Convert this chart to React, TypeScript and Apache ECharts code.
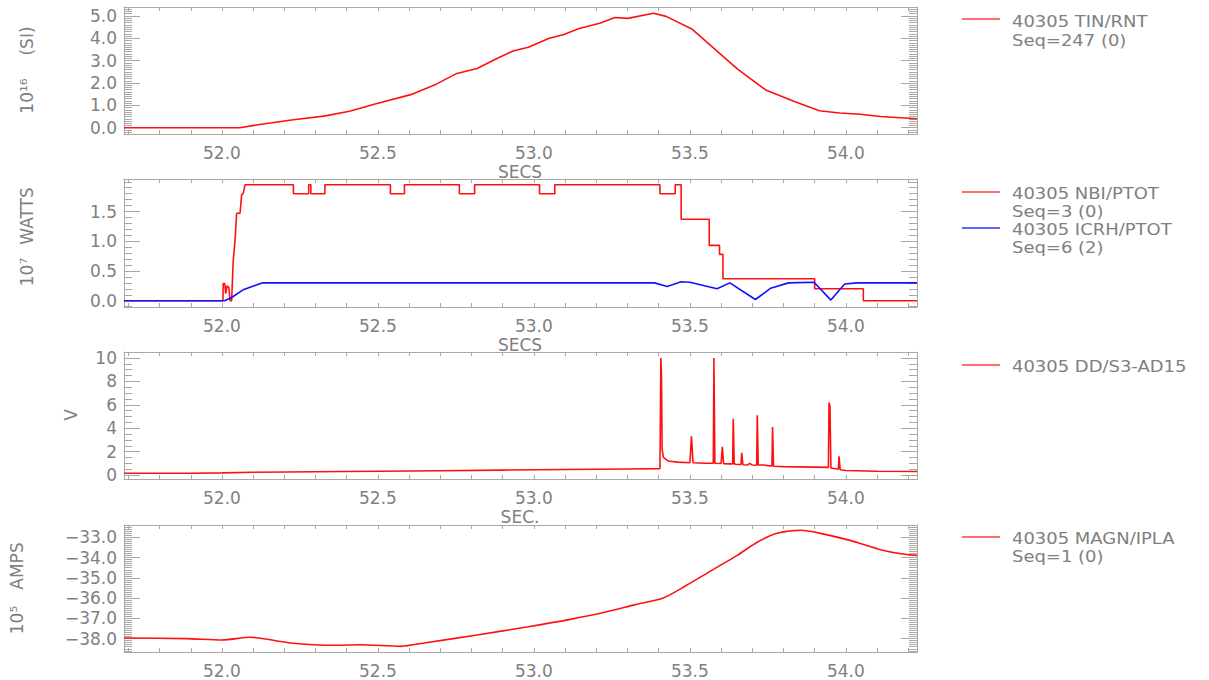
import React, { useEffect, useRef } from "react";
import * as echarts from "echarts";

// ---------- shared x axis ----------
const X_MIN = 51.686;
const X_MAX = 54.228;
const X_LABELS = [52.0, 52.5, 53.0, 53.5, 54.0];

// ---------- panel 1 : TIN/RNT ----------
const tinTime = [51.686, 52.057, 52.115, 52.229, 52.327, 52.409, 52.491, 52.605, 52.687, 52.753, 52.818, 52.883, 52.933, 52.982, 53.047, 53.096, 53.145, 53.211, 53.26, 53.301, 53.383, 53.424, 53.506, 53.587, 53.653, 53.743, 53.833, 53.915, 53.98, 54.046, 54.111, 54.228];
const tinValue = [0.0, 0.0, 0.13, 0.36, 0.52, 0.74, 1.06, 1.48, 1.95, 2.43, 2.65, 3.11, 3.43, 3.6, 3.99, 4.17, 4.44, 4.67, 4.93, 4.89, 5.12, 4.98, 4.42, 3.43, 2.62, 1.69, 1.18, 0.76, 0.66, 0.6, 0.5, 0.4];
const P1_TICKS = [0, 1, 2, 3, 4, 5];

// ---------- panel 2 : NBI/PTOT and ICRH/PTOT ----------
const nbiTime = [51.686, 52.003, 52.004, 52.009, 52.012, 52.016, 52.022, 52.026, 52.031, 52.036, 52.042, 52.047, 52.058, 52.063, 52.068, 52.074, 52.229, 52.229, 52.278, 52.278, 52.285, 52.285, 52.33, 52.33, 52.54, 52.54, 52.585, 52.585, 52.761, 52.761, 52.81, 52.81, 53.018, 53.018, 53.067, 53.067, 53.404, 53.404, 53.453, 53.453, 53.472, 53.472, 53.562, 53.562, 53.595, 53.595, 53.606, 53.606, 53.9, 53.9, 54.056, 54.056, 54.228];
const nbiValue = [0, 0, 0.29, 0.29, 0.12, 0.25, 0.22, 0, 0, 0.66, 1.02, 1.47, 1.47, 1.78, 1.8, 1.95, 1.95, 1.8, 1.8, 1.95, 1.95, 1.8, 1.8, 1.95, 1.95, 1.8, 1.8, 1.95, 1.95, 1.8, 1.8, 1.95, 1.95, 1.8, 1.8, 1.95, 1.95, 1.8, 1.8, 1.95, 1.95, 1.37, 1.37, 0.93, 0.93, 0.78, 0.78, 0.37, 0.37, 0.2, 0.2, 0, 0];
const icrhTime = [51.686, 52.008, 52.03, 52.07, 52.131, 53.387, 53.427, 53.472, 53.5, 53.587, 53.628, 53.71, 53.759, 53.816, 53.898, 53.952, 53.996, 54.037, 54.228];
const icrhValue = [0, 0, 0.05, 0.19, 0.3, 0.3, 0.24, 0.32, 0.31, 0.2, 0.3, 0.02, 0.21, 0.3, 0.31, 0.01, 0.28, 0.3, 0.3];
const P2_TICKS = [0, 0.5, 1.0, 1.5];

// ---------- panel 3 : DD/S3-AD15 ----------
const ddTime = [51.686, 51.9, 52.0, 52.1, 52.3, 52.5, 52.7, 52.9, 53.1, 53.3, 53.404, 53.405, 53.407, 53.409, 53.411, 53.415, 53.43, 53.46, 53.5, 53.505, 53.51, 53.55, 53.575, 53.577, 53.58, 53.6, 53.604, 53.608, 53.625, 53.637, 53.639, 53.642, 53.647, 53.664, 53.666, 53.67, 53.685, 53.692, 53.7, 53.714, 53.716, 53.719, 53.735, 53.75, 53.763, 53.765, 53.768, 53.8, 53.85, 53.944, 53.946, 53.949, 53.952, 53.976, 53.978, 53.982, 54.0, 54.1, 54.228];
const ddValue = [0.15, 0.15, 0.18, 0.24, 0.28, 0.32, 0.37, 0.42, 0.47, 0.52, 0.55, 3.5, 10.0, 8.4, 2.2, 1.5, 1.2, 1.1, 1.05, 3.3, 1.05, 1.0, 1.0, 10.0, 1.0, 0.98, 2.4, 0.97, 0.95, 0.95, 4.8, 0.95, 0.92, 0.9, 1.9, 0.88, 0.86, 1.0, 0.85, 0.84, 5.1, 0.85, 0.85, 0.8, 0.78, 4.1, 0.75, 0.72, 0.7, 0.65, 6.2, 5.9, 0.6, 0.5, 1.6, 0.45, 0.38, 0.32, 0.3];
const P3_TICKS = [0, 2, 4, 6, 8, 10];

// ---------- panel 4 : MAGN/IPLA ----------
const ipTime = [51.686, 51.886, 52.0, 52.09, 52.213, 52.36, 52.442, 52.573, 52.654, 52.818, 52.982, 53.112, 53.227, 53.325, 53.415, 53.488, 53.57, 53.652, 53.717, 53.783, 53.856, 53.915, 54.013, 54.111, 54.176, 54.228];
const ipValue = [-37.97, -38.0, -38.07, -37.93, -38.2, -38.33, -38.3, -38.38, -38.2, -37.82, -37.41, -37.06, -36.7, -36.32, -35.99, -35.38, -34.63, -33.89, -33.23, -32.79, -32.65, -32.79, -33.15, -33.61, -33.81, -33.89];
const P4_TICKS = [-38, -37, -36, -35, -34, -33];

const TEXT = "#808080";
const AXIS = "#a8a8a8";
const FONT = "'DejaVu Sans', sans-serif";

function zip(t: number[], v: number[]) {
  return t.map((x, i) => [x, v[i]]);
}
function steps(min: number, max: number, step: number) {
  const out: number[] = [];
  const start = Math.ceil(min / step - 1e-9);
  for (let k = start; k * step <= max + 1e-9; k++) out.push(Math.round(k * step * 1000) / 1000);
  return out;
}

const X_TICKS = steps(X_MIN, X_MAX, 0.1);

interface Panel {
  top: number;
  height: number;
  yMin: number;
  yMax: number;
  major: number[];
  minorStep: number;
  fmt: (v: number) => string;
}

const panels: Panel[] = [
  { top: 7, height: 127, yMin: -0.28, yMax: 5.4, major: P1_TICKS, minorStep: 0.1, fmt: (v) => v.toFixed(1) },
  { top: 179, height: 128, yMin: -0.106, yMax: 2.047, major: P2_TICKS, minorStep: 0.1, fmt: (v) => v.toFixed(1) },
  { top: 352, height: 127, yMin: -0.34, yMax: 10.51, major: P3_TICKS, minorStep: 0.5, fmt: (v) => String(Math.round(v)) },
  { top: 525, height: 127, yMin: -38.66, yMax: -32.39, major: P4_TICKS, minorStep: 0.1, fmt: (v) => "\u2212" + Math.abs(v).toFixed(1) },
];

function buildOption() {
  const grid: any[] = [];
  const xAxis: any[] = [];
  const yAxis: any[] = [];
  panels.forEach((p, g) => {
    grid.push({ left: 124, width: 793, top: p.top, height: p.height, containLabel: false });
    const xBase = {
      gridIndex: g,
      type: "value",
      min: X_MIN,
      max: X_MAX,
      splitLine: { show: false },
      axisLine: { show: true, onZero: false, lineStyle: { color: AXIS, width: 1 } },
      axisTick: { show: true, inside: true, length: 4, customValues: X_TICKS, lineStyle: { color: AXIS, width: 1 } },
    };
    xAxis.push({
      ...xBase,
      position: "bottom",
      axisLabel: {
        show: true,
        customValues: X_LABELS,
        formatter: (v: number) => v.toFixed(1),
        color: TEXT,
        fontSize: 17,
        fontFamily: FONT,
        margin: 10,
      },
    });
    xAxis.push({ ...xBase, position: "top", axisLabel: { show: false } });

    const minor = steps(p.yMin, p.yMax, p.minorStep);
    const yBase = {
      gridIndex: g,
      type: "value",
      min: p.yMin,
      max: p.yMax,
      splitLine: { show: false },
    };
    yAxis.push({
      ...yBase,
      position: "left",
      axisLine: { show: true, onZero: false, lineStyle: { color: AXIS, width: 1 } },
      axisTick: { show: true, inside: true, length: 16, customValues: p.major, lineStyle: { color: AXIS } },
      axisLabel: {
        show: true,
        customValues: p.major,
        formatter: p.fmt,
        color: TEXT,
        fontSize: 17,
        fontFamily: FONT,
        margin: 7,
      },
    });
    yAxis.push({
      ...yBase,
      position: "left",
      axisLine: { show: false },
      axisTick: { show: true, inside: true, length: 8, customValues: minor, lineStyle: { color: AXIS } },
      axisLabel: { show: false },
    });
    yAxis.push({
      ...yBase,
      position: "right",
      axisLine: { show: true, onZero: false, lineStyle: { color: AXIS, width: 1 } },
      axisTick: { show: true, inside: true, length: 16, customValues: p.major, lineStyle: { color: AXIS } },
      axisLabel: { show: false },
    });
    yAxis.push({
      ...yBase,
      position: "right",
      axisLine: { show: false },
      axisTick: { show: true, inside: true, length: 8, customValues: minor, lineStyle: { color: AXIS } },
      axisLabel: { show: false },
    });
  });

  const line = (name: string, g: number, data: number[][], color: string, smooth: number | boolean = false) => ({
    name,
    type: "line",
    xAxisIndex: 2 * g,
    yAxisIndex: 4 * g,
    data,
    showSymbol: false,
    symbol: "none",
    smooth,
    clip: true,
    lineStyle: { color, width: 1.6 },
    itemStyle: { color },
  });

  const series = [
    line("40305 TIN/RNT", 0, zip(tinTime, tinValue), "#ff1010"),
    line("40305 NBI/PTOT", 1, zip(nbiTime, nbiValue), "#ff1010"),
    line("40305 ICRH/PTOT", 1, zip(icrhTime, icrhValue), "#1010ff"),
    line("40305 DD/S3-AD15", 2, zip(ddTime, ddValue), "#ff1010"),
    line("40305 MAGN/IPLA", 3, zip(ipTime, ipValue), "#ff1010", 0.25),
  ];

  const txt = (text: string, x: number, y: number, opts: any = {}) => ({
    type: "text",
    x,
    y,
    rotation: opts.rotation || 0,
    scaleX: opts.scaleX || 1,
    silent: true,
    style: {
      text,
      fill: TEXT,
      font: `${opts.size || 17}px ${FONT}`,
      align: opts.align || "center",
      verticalAlign: "middle",
    },
  });
  const leg = (text: string, y: number) => txt(text, 1012, y, { align: "left", size: 15.5, scaleX: 1.16 });
  const legLine = (y: number, color: string) => ({
    type: "line",
    silent: true,
    shape: { x1: 962, y1: y, x2: 1000, y2: y },
    style: { stroke: color, lineWidth: 1.5 },
  });
  const R = Math.PI / 2;

  const graphic = [
    // y axis titles
    txt("10\u00b9\u2076", 27, 96, { rotation: R }),
    txt("(SI)", 27, 41, { rotation: R }),
    txt("10\u2077", 27, 272, { rotation: R }),
    txt("WATTS", 27, 216, { rotation: R }),
    txt("V", 71, 415, { rotation: R }),
    txt("10\u2075", 17, 620, { rotation: R }),
    txt("AMPS", 17, 566, { rotation: R }),
    // x axis titles
    txt("SECS", 520, 172),
    txt("SECS", 520, 345),
    txt("SEC.", 520, 517),
    // legends
    legLine(19, "#ff4040"),
    leg("40305 TIN/RNT", 21),
    leg("Seq=247 (0)", 40),
    legLine(192, "#ff4040"),
    leg("40305 NBI/PTOT", 193),
    leg("Seq=3 (0)", 211),
    legLine(228, "#3030ff"),
    leg("40305 ICRH/PTOT", 229),
    leg("Seq=6 (2)", 247),
    legLine(365, "#ff4040"),
    leg("40305 DD/S3-AD15", 366),
    legLine(537, "#ff4040"),
    leg("40305 MAGN/IPLA", 538),
    leg("Seq=1 (0)", 556),
  ];

  return {
    animation: false,
    backgroundColor: "#ffffff",
    textStyle: { fontFamily: FONT },
    grid,
    xAxis,
    yAxis,
    series,
    graphic,
  };
}

export default function App() {
  const ref = useRef<HTMLDivElement>(null);
  useEffect(() => {
    document.body.style.margin = "0";
    if (!ref.current) return;
    const chart = echarts.init(ref.current, undefined, { renderer: "svg" });
    chart.setOption(buildOption() as any);
    return () => chart.dispose();
  }, []);
  return <div ref={ref} style={{ width: 1209, height: 680, position: "absolute", left: 0, top: 0 }} />;
}
